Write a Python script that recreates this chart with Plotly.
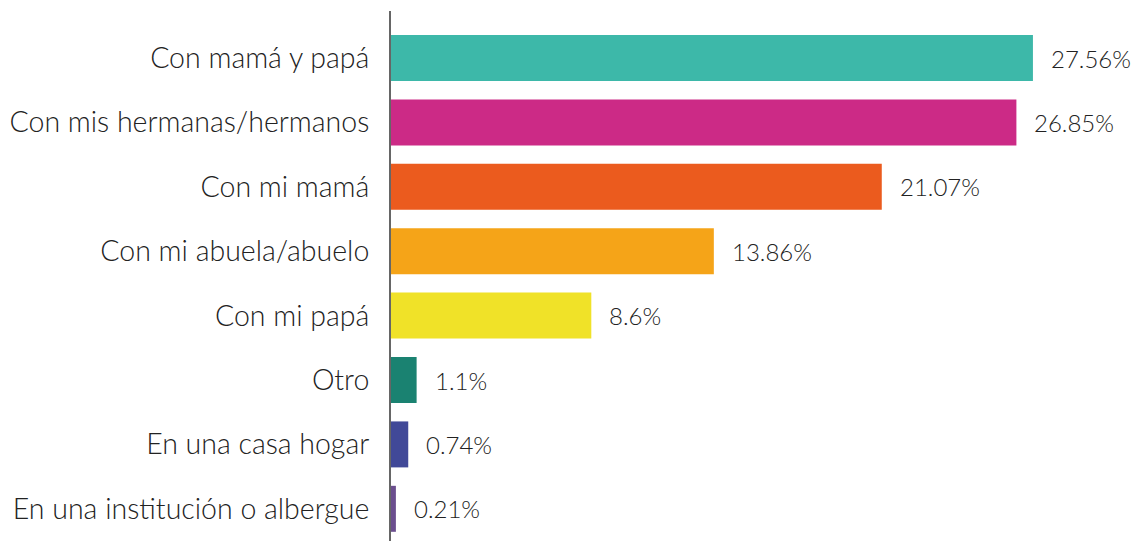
import plotly.graph_objects as go

categories = ["Con mamá y papá", "Con mis hermanas/hermanos", "Con mi mamá",
              "Con mi abuela/abuelo", "Con mi papá", "Otro",
              "En una casa hogar", "En una institución o albergue"]
values = [27.56, 26.85, 21.07, 13.86, 8.6, 1.1, 0.74, 0.21]
labels = ["27.56%", "26.85%", "21.07%", "13.86%", "8.6%", "1.1%", "0.74%", "0.21%"]
colors = ["#3db8a9", "#cc2a86", "#eb5b1e", "#f5a418", "#f0e228",
          "#1a8271", "#414998", "#6b4e8e"]

FONT = "Lato"

fig = go.Figure(go.Bar(
    y=categories, x=values, orientation="h",
    marker=dict(color=colors, line=dict(width=0)),
    width=0.714, hoverinfo="skip",
))

for c, v, t in zip(categories, values, labels):
    fig.add_annotation(x=v, y=c, text=t, showarrow=False, xanchor="left",
                       xshift=16, font=dict(family=FONT, size=24, color="#222222", weight=300))

fig.update_layout(
    width=1140, height=541,
    margin=dict(l=383, r=0, t=3, b=0),
    paper_bgcolor="white", plot_bgcolor="white",
    showlegend=False,
    xaxis=dict(range=[0, 32.5], visible=False, fixedrange=True),
    yaxis=dict(categoryorder="array", categoryarray=categories, automargin=False,
               range=[7.624, -0.73], showline=True, linecolor="#666666", linewidth=2,
               ticks="", ticklabelstandoff=14, showgrid=False, zeroline=False,
               tickfont=dict(family=FONT, size=28.5, color="#222222", weight=300)),
)

fig.write_html("out.html")
